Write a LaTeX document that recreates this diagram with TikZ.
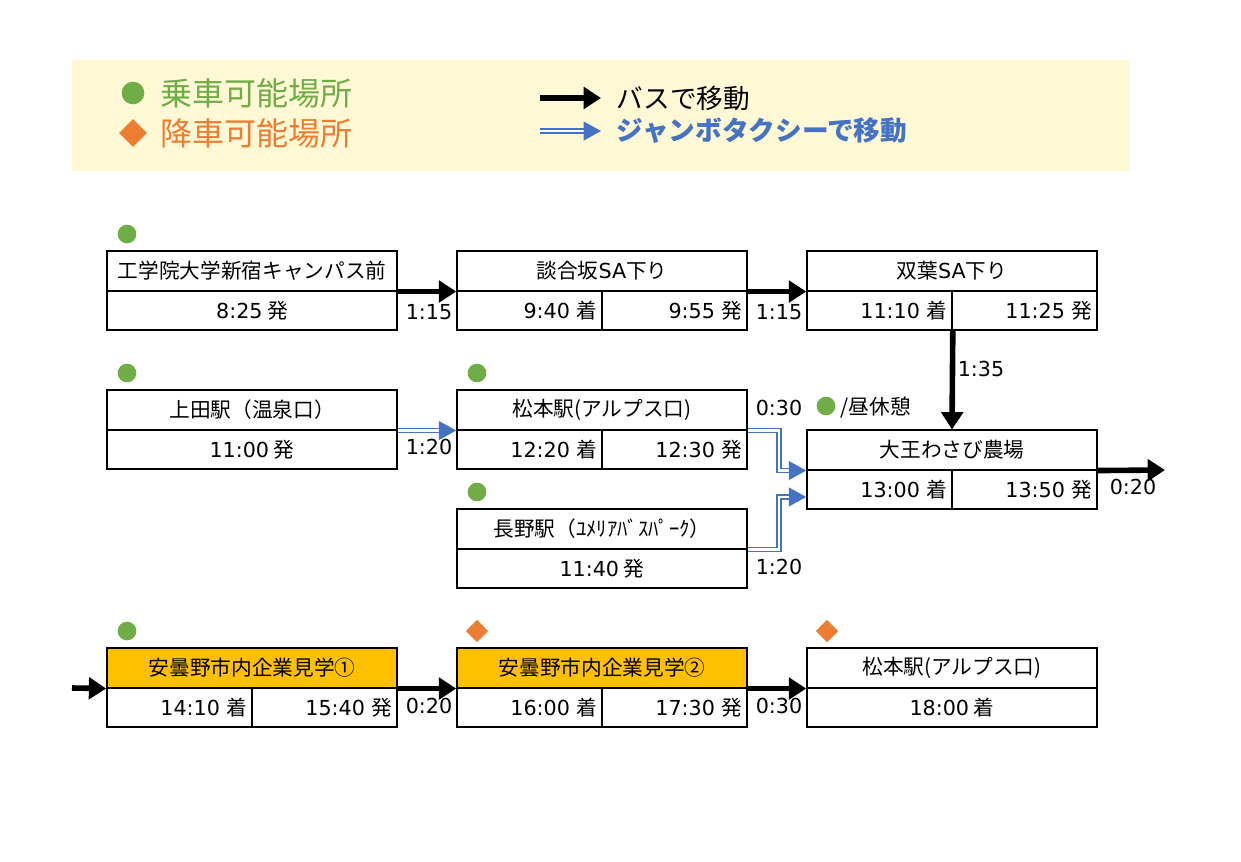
\documentclass[tikz,border=0pt]{standalone}
\usepackage{fontspec}
\setmainfont{Noto Sans CJK JP}
\newfontfamily\latinfont{DejaVu Sans}
\usepackage{tikz}
\usetikzlibrary{shapes.geometric, arrows.meta}

\definecolor{okgreen}{HTML}{70AD47}
\definecolor{ngorange}{HTML}{ED7D31}
\definecolor{taxiblue}{HTML}{4472C4}
\definecolor{visitgold}{HTML}{FFC000}
\definecolor{legendbg}{HTML}{FFF9D5}
\newcommand\cellfont{\fontsize{15.5}{18}\selectfont}
\newcommand\lat[1]{{\latinfont #1}}

\tikzset{
    cell/.style={draw, line width=1.2pt, minimum width=217.5pt, minimum height=29.6pt, inner sep=0pt, font=\cellfont},
    halfcell/.style={cell, minimum width=108.75pt, text width=102pt, align=right},
    bus/.style={line width=4.2pt, -{Triangle[length=13pt,width=16pt]}},
    taxi/.style={draw=taxiblue, double=white, line width=1.4pt, double distance=1.6pt, -{Triangle[length=13pt,width=14pt]}},
    ride/.style={circle, fill=okgreen, inner sep=0pt, minimum size=14pt},
    alight/.style={diamond, fill=ngorange, inner sep=0pt, minimum size=17pt},
    dur/.style={font=\cellfont\latinfont}
}

\begin{document}
\begin{tikzpicture}[x=0.75pt, y=-0.75pt]
        \useasboundingbox (0,0) rectangle (1241,861);

        % Legend
        \fill[legendbg] (72,60) rectangle (1130,171);
        \node[ride, minimum size=17pt] (lgride) at (133,93) {};
        \node[anchor=west, text=okgreen, font=\fontsize{24}{28}\selectfont] (lgridetext) at (156,93) {乗車可能場所};
        \node[alight, minimum size=21pt] (lgalight) at (133,133) {};
        \node[anchor=west, text=ngorange, font=\fontsize{24}{28}\selectfont] (lgalighttext) at (156,133) {降車可能場所};
        \coordinate (lgbus1) at (540,98);
        \coordinate (lgbus2) at (601,98);
        \draw[bus] (lgbus1) -- (lgbus2);
        \node[anchor=west, font=\fontsize{20}{24}\selectfont] (lgbustext) at (612,98) {バスで移動};
        \coordinate (lgtaxi1) at (540,131);
        \coordinate (lgtaxi2) at (601,131);
        \draw[taxi] (lgtaxi1) -- (lgtaxi2);
        \node[anchor=west, text=taxiblue, font=\fontsize{20}{24}\selectfont\bfseries] (lgtaxitext) at (612,131) {ジャンボタクシーで移動};

        % Row 1
        \node[ride] (mka) at (127,234) {};
        \node[cell] (a) at (252,271) {工学院大学新宿キャンパス前};
        \node[cell] (a1) at (252,310.5) {\lat{8:25} 発};

        \node[cell] (b) at (602,271) {談合坂\lat{SA}下り};
        \node[halfcell] (b1) at (529.5,310.5) {\lat{9:40} 着};
        \node[halfcell] (b2) at (674.5,310.5) {\lat{9:55} 発};

        \node[cell] (c) at (952,271) {双葉\lat{SA}下り};
        \node[halfcell] (c1) at (879.5,310.5) {\lat{11:10} 着};
        \node[halfcell] (c2) at (1024.5,310.5) {\lat{11:25} 発};

        % Row 2
        \node[ride] (mkd) at (127,373) {};
        \node[cell] (d) at (252,410) {上田駅（温泉口）};
        \node[cell] (d1) at (252,449.5) {\lat{11:00} 発};

        \node[ride] (mke) at (477,373) {};
        \node[cell] (e) at (602,410) {松本駅(アルプス口)};
        \node[halfcell] (e1) at (529.5,449.5) {\lat{12:20} 着};
        \node[halfcell] (e2) at (674.5,449.5) {\lat{12:30} 発};

        \node[ride] (mkf) at (477,492) {};
        \node[cell] (f) at (602,529) {長野駅（ﾕﾒﾘｱﾊﾞｽﾊﾟｰｸ）};
        \node[cell] (f1) at (602,568.5) {\lat{11:40} 発};

        \node[ride] (mkg) at (826,406) {};
        \node[anchor=west, font=\cellfont] (lunch) at (836,408) {/昼休憩};
        \node[cell] (g) at (952,450) {大王わさび農場};
        \node[halfcell] (g1) at (879.5,489.5) {\lat{13:00} 着};
        \node[halfcell] (g2) at (1024.5,489.5) {\lat{13:50} 発};

        % Row 3
        \node[ride] (mkh) at (127,631) {};
        \node[cell, fill=visitgold] (h) at (252,668) {安曇野市内企業見学①};
        \node[halfcell] (h1) at (179.5,707.5) {\lat{14:10} 着};
        \node[halfcell] (h2) at (324.5,707.5) {\lat{15:40} 発};

        \node[alight] (mki) at (477,631) {};
        \node[cell, fill=visitgold] (i) at (602,668) {安曇野市内企業見学②};
        \node[halfcell] (i1) at (529.5,707.5) {\lat{16:00} 着};
        \node[halfcell] (i2) at (674.5,707.5) {\lat{17:30} 発};

        \node[alight] (mkj) at (827,631) {};
        \node[cell] (j) at (952,668) {松本駅(アルプス口)};
        \node[cell] (j1) at (952,707.5) {\lat{18:00} 着};

        % Bus
        \draw[bus] (a.south east) -- (b.south west);
        \node[dur] (ab) at (429,312) {1:15};
        \draw[bus] (b.south east) -- (c.south west);
        \node[dur] (bc) at (779,312) {1:15};
        \draw[bus] (c1.south east) -- (g.north);
        \node[dur] (cg) at (981,369) {1:35};
        \coordinate (gout) at (1165,470);
        \draw[bus] (g.south east) -- (gout);
        \node[dur] (go) at (1133,487) {0:20};
        \coordinate (hin) at (72,688);
        \draw[bus] (hin) -- (h.south west);
        \draw[bus] (h.south east) -- (i.south west);
        \node[dur] (hi) at (429,706) {0:20};
        \draw[bus] (i.south east) -- (j.south west);
        \node[dur] (ij) at (779,706) {0:30};

        % Taxi
        \draw[taxi] (d.south east) -- (e.south west);
        \node[dur] (de) at (429,447) {1:20};
        \draw[taxi] (e.south east) -- ++(31,0) |- (g.south west);
        \node[dur] (eg) at (779,408) {0:30};
        \draw[taxi] (f.south east) -- ++(31,0) |- ([yshift=-5.6pt]g1.west);
        \node[dur] (fg) at (779,567) {1:20};
    \end{tikzpicture}
\end{document}
